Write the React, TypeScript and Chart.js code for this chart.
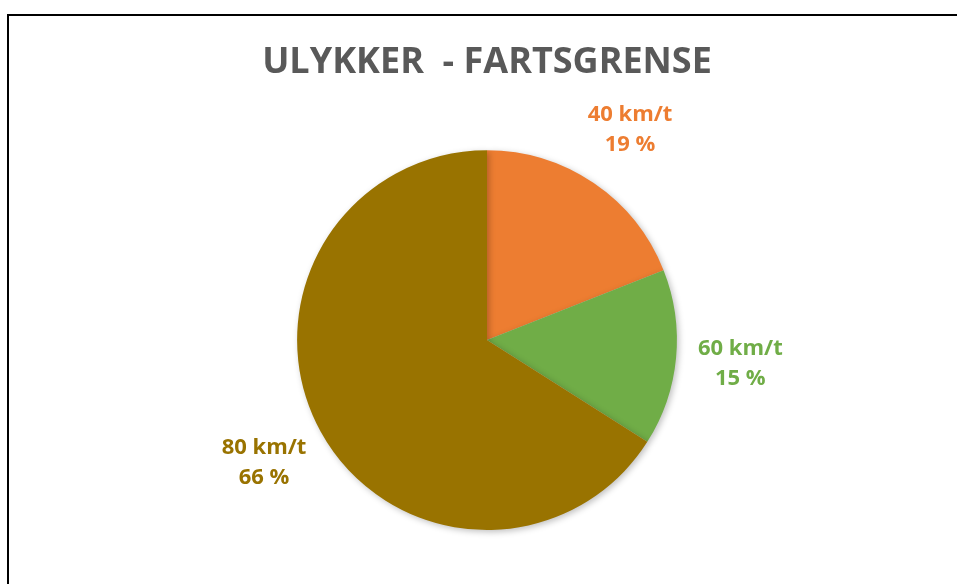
import React, { useEffect, useRef } from "react";
import { Chart, registerables } from "chart.js";

Chart.register(...registerables);

const categories = ["40 km/t", "60 km/t", "80 km/t"];
const shares = [19, 15, 66];
const colors = ["#ED7D31", "#70AD47", "#997300"];
const titleText = "ULYKKER  - FARTSGRENSE";

const FONT = "'Open Sans', 'Noto Sans', sans-serif";

const labelPlugin = {
  id: "outLabels",
  afterDatasetsDraw(chart: any) {
    const ctx = chart.ctx;
    const meta = chart.getDatasetMeta(0);
    ctx.save();
    ctx.font = `bold 22px ${FONT}`;
    ctx.textAlign = "center";
    ctx.textBaseline = "middle";
    meta.data.forEach((arc: any, i: number) => {
      const mid = (arc.startAngle + arc.endAngle) / 2;
      const r = arc.outerRadius * 1.34;
      const x = arc.x + Math.cos(mid) * r;
      const y = arc.y + Math.sin(mid) * r;
      ctx.fillStyle = colors[i];
      ctx.fillText(categories[i], x, y - 15);
      ctx.fillText(`${shares[i]} %`, x, y + 15);
    });
    ctx.restore();
  },
};

const shadowPlugin = {
  id: "pieShadow",
  beforeDatasetDraw(chart: any) {
    const ctx = chart.ctx;
    ctx.save();
    ctx.shadowColor = "rgba(0,0,0,0.25)";
    ctx.shadowBlur = 6;
    ctx.shadowOffsetX = 2;
    ctx.shadowOffsetY = 2;
  },
  afterDatasetDraw(chart: any) {
    chart.ctx.restore();
  },
};

export default function App() {
  const ref = useRef<HTMLCanvasElement>(null);
  useEffect(() => {
    if (!ref.current) return;
    const chart = new Chart(ref.current, {
      type: "pie",
      data: {
        labels: categories,
        datasets: [
          {
            data: shares,
            backgroundColor: colors,
            borderWidth: 0,
          },
        ],
      },
      options: {
        animation: false,
        responsive: false,
        layout: { padding: { bottom: 54 } },
        plugins: {
          legend: { display: false },
          tooltip: { enabled: false },
          title: {
            display: true,
            text: titleText,
            color: "#595959",
            font: { family: FONT, size: 36, weight: "bold", lineHeight: 1.2 },
            padding: { top: 25, bottom: 66 },
          },
        },
      },
      plugins: [shadowPlugin, labelPlugin],
    });
    return () => chart.destroy();
  }, []);
  return (
    <div>
      <div
        style={{
          position: "fixed",
          left: 7,
          top: 14,
          width: 1100,
          height: 800,
          borderTop: "2px solid #000",
          borderLeft: "2px solid #000",
          background: "#fff",
        }}
      />
      <canvas
        ref={ref}
        width={956}
        height={568}
        style={{ position: "fixed", left: 9, top: 16, width: 956, height: 568 }}
      />
    </div>
  );
}
